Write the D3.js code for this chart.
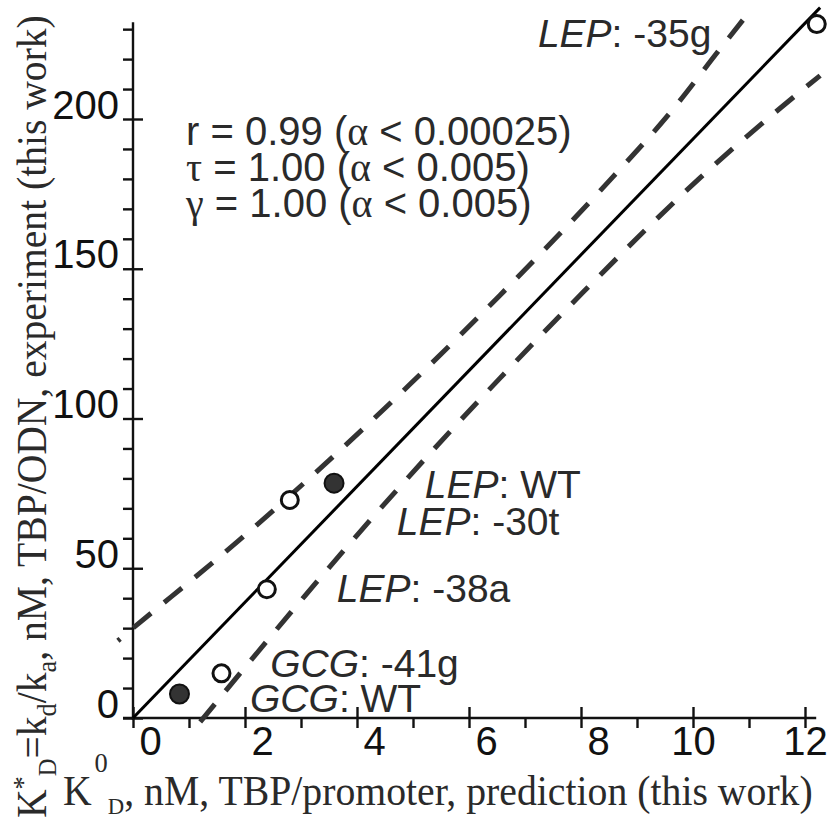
<!DOCTYPE html>
<html>
<head>
<meta charset="utf-8">
<script src="https://cdn.jsdelivr.net/npm/d3@7"></script>
<style>
  html, body { margin: 0; padding: 0; background: #fff; }
  svg { display: block; }
</style>
</head>
<body>
<svg id="chart" width="829" height="818"></svg>
<script>
// ---------------- DATA ----------------
const xTicksMajor = [0, 2, 4, 6, 8, 10, 12];
const xTicksMinor = [1, 3, 5, 7, 9, 11];
const yTicksMajor = [0, 50, 100, 150, 200];
const yTicksMinor = [10, 20, 30, 40, 60, 70, 80, 90, 110, 120, 130, 140, 160, 170, 180, 190, 210, 220, 230];
const xAxisEnd = 12.2;
const yAxisEnd = 232.3;

// K0D prediction (x) vs K*D experiment (y)
const pointX = [0.83, 1.58, 2.39, 2.80, 3.59, 12.21];
const pointY = [8.0, 14.9, 43.0, 72.8, 78.4, 231.7];
const pointFilled = [true, false, false, false, true, false];
const pointGene = ["GCG", "GCG", "LEP", "LEP", "LEP", "LEP"];
const pointVariant = ["WT", "-41g", "-38a", "-30t", "WT", "-35g"];

// regression line and confidence band
const fitX = [0, 12.27];
const fitY = [0, 237.2];
const upperX = [-0.27, 0, 1.86, 3.20, 4.95, 6.55, 8.34, 9.71, 10.45, 10.89];
const upperY = [25.8, 30.0, 58.8, 80.9, 111.5, 141.1, 176.0, 204.8, 222.6, 233.0];
const lowerX = [1.20, 3.07, 4.64, 6.55, 8.04, 10.13, 11.55, 12.27];
const lowerY = [-1.3, 40.8, 74.6, 113.4, 142.2, 180.4, 203.5, 214.5];

// statistics
const statSymbols = ["r", "τ", "γ"];
const statValues = ["0.99", "1.00", "1.00"];
const statAlphas = ["0.00025", "0.005", "0.005"];

// ---------------- LAYOUT ----------------
const sans = "'Liberation Sans', Arial, Helvetica, sans-serif";
const serif = "'Liberation Serif', 'Times New Roman', Times, serif";
const svg = d3.select("#chart");

const x = d3.scaleLinear().domain([0, 12]).range([133, 805]);
const y = d3.scaleLinear().domain([0, 200]).range([718, 119]);

// label anchors (data units, placed through scales)
const labelAnchorX = [2.09, 2.45, 3.64, 4.71, 5.21, 7.23];
const labelAnchorY = [2.0, 13.7, 38.7, 61.1, 73.5, 224.0];

// ---------------- AXES ----------------
const axisColor = "#111";
const axW = 2.4;

function styleAxis(g) {
  g.select(".domain").remove();
  g.selectAll(".tick line").attr("stroke", axisColor).attr("stroke-width", axW);
}

const gyL = svg.append("g").attr("transform", `translate(${x(0)},0)`)
  .call(d3.axisLeft(y).tickValues(yTicksMajor.concat(yTicksMinor)).tickSize(10).tickPadding(4)
    .tickFormat(d => yTicksMajor.includes(d) ? d3.format("d")(d) : ""));
styleAxis(gyL);
gyL.selectAll("text")
  .attr("font-family", sans).attr("font-size", 40).attr("fill", "#111")
  .attr("dy", "0").attr("y", -1);

const gyR = svg.append("g").attr("transform", `translate(${x(0)},0)`)
  .call(d3.axisRight(y).tickValues(yTicksMajor).tickSize(10).tickFormat(""));
styleAxis(gyR);

const gxB = svg.append("g").attr("transform", `translate(0,${y(0)})`)
  .call(d3.axisBottom(x).tickValues(xTicksMajor.concat(xTicksMinor)).tickSize(10)
    .tickFormat(d => xTicksMajor.includes(d) ? d3.format("d")(d) : ""));
styleAxis(gxB);
gxB.selectAll("text")
  .attr("font-family", sans).attr("font-size", 40).attr("fill", "#111")
  .attr("dy", "0").attr("y", 37)
  .attr("dx", function() { return this.textContent.length === 1 ? 17 : 0; });

const gxT = svg.append("g").attr("transform", `translate(0,${y(0)})`)
  .call(d3.axisTop(x).tickValues(xTicksMajor).tickSize(11).tickFormat(""));
styleAxis(gxT);

svg.append("line")
  .attr("x1", x(0)).attr("x2", x(0)).attr("y1", y(yAxisEnd)).attr("y2", y(0) + 2)
  .attr("stroke", axisColor).attr("stroke-width", axW);
svg.append("line")
  .attr("x1", x(0) - 10).attr("x2", x(xAxisEnd)).attr("y1", y(0)).attr("y2", y(0))
  .attr("stroke", axisColor).attr("stroke-width", axW);

// ---------------- LINES ----------------
const lineGen = d3.line().x(d => x(d[0])).y(d => y(d[1]));
const curveGen = d3.line().x(d => x(d[0])).y(d => y(d[1])).curve(d3.curveMonotoneX);

svg.append("path")
  .attr("d", curveGen(upperX.map((v, i) => [v, upperY[i]])))
  .attr("fill", "none").attr("stroke", "#333").attr("stroke-width", 5)
  .attr("stroke-dasharray", "23,17").attr("stroke-dashoffset", 20);

svg.append("path")
  .attr("d", curveGen(lowerX.map((v, i) => [v, lowerY[i]])))
  .attr("fill", "none").attr("stroke", "#333").attr("stroke-width", 5)
  .attr("stroke-dasharray", "23,17").attr("stroke-dashoffset", 0);

svg.append("path")
  .attr("d", lineGen(fitX.map((v, i) => [v, fitY[i]])))
  .attr("fill", "none").attr("stroke", "#000").attr("stroke-width", 3);

// ---------------- POINTS ----------------
svg.append("g").selectAll("circle")
  .data(pointX.map((v, i) => ({ x: v, y: pointY[i], f: pointFilled[i] })))
  .join("circle")
  .attr("cx", d => x(d.x)).attr("cy", d => y(d.y))
  .attr("r", d => d.f ? 9.5 : 8.5)
  .attr("fill", d => d.f ? "#333" : "#fff")
  .attr("stroke", "#111")
  .attr("stroke-width", d => d.f ? 2 : 3);

// ---------------- POINT LABELS ----------------
const labG = svg.append("g")
  .attr("font-family", sans).attr("font-size", 39).attr("fill", "#2a2a2a");
pointGene.forEach((gname, i) => {
  const t = labG.append("text")
    .attr("x", x(labelAnchorX[i])).attr("y", y(labelAnchorY[i]));
  t.append("tspan").attr("font-style", "italic").text(gname);
  t.append("tspan").text(": " + pointVariant[i]);
});

// ---------------- STATISTICS ----------------
const statG = svg.append("g")
  .attr("font-family", sans).attr("font-size", 40).attr("fill", "#2a2a2a");
const statBaselines = [145, 181, 217];
statSymbols.forEach((s, i) => {
  const t = statG.append("text").attr("x", 186).attr("y", statBaselines[i]);
  t.append("tspan").attr("font-family", s === "r" ? sans : serif).text(s);
  t.append("tspan").text(" = " + statValues[i] + " (");
  t.append("tspan").attr("font-family", serif).text("α");
  t.append("tspan").text(" < " + statAlphas[i] + ")");
});

// ---------------- AXIS TITLES ----------------
const titleColor = "#2a2a2a";

const yTitle = svg.append("text")
  .attr("font-family", serif).attr("font-size", 42).attr("fill", titleColor);
yTitle.append("tspan").text("K");
yTitle.append("tspan").attr("font-size", 28).attr("dy", -14).text("*");
yTitle.append("tspan").attr("font-size", 26).attr("dy", 24).text("D");
yTitle.append("tspan").attr("dy", -10).text("=k");
yTitle.append("tspan").attr("font-size", 28).attr("dy", 10).text("d");
yTitle.append("tspan").attr("dy", -10).text("/k");
yTitle.append("tspan").attr("font-size", 28).attr("dy", 10).text("a");
yTitle.append("tspan").attr("dy", -10).text(", nM, TBP/ODN, experiment (this work)");
const yLen = yTitle.node().getComputedTextLength();
yTitle.attr("transform", `translate(46,818) rotate(-90) scale(${803 / yLen},1)`);

const xTitle = svg.append("text")
  .attr("font-family", serif).attr("font-size", 42).attr("fill", titleColor);
xTitle.append("tspan").text("K");
xTitle.append("tspan").attr("font-size", 28).attr("dy", -33).attr("dx", 3).text("0");
xTitle.append("tspan").attr("font-size", 24).attr("dy", 42).text("D");
xTitle.append("tspan").attr("dy", -9).text(", nM, TBP/promoter, prediction (this work)");
const xLen = xTitle.node().getComputedTextLength();
xTitle.attr("transform", `translate(63,805) scale(${750 / (xLen + 3)},1)`);
</script>
</body>
</html>
